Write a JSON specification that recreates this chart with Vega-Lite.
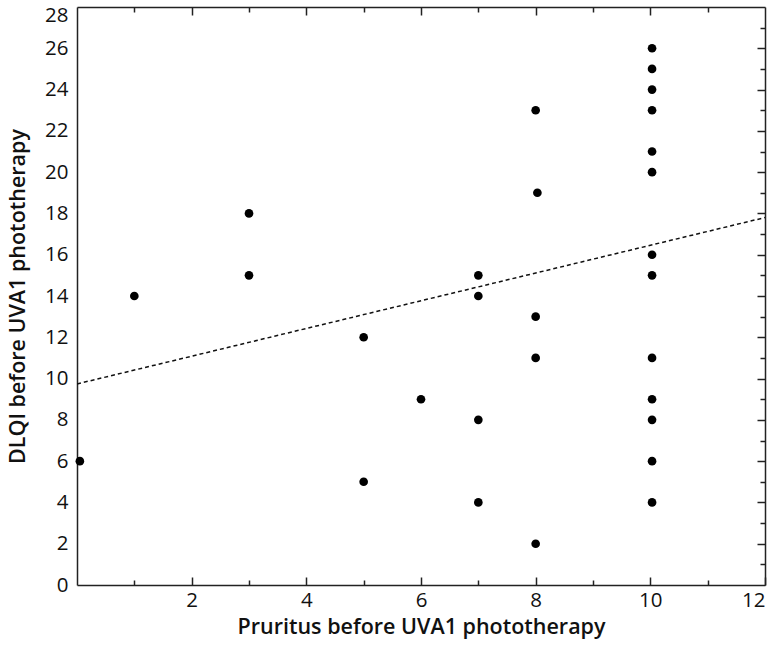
{
  "$schema": "https://vega.github.io/schema/vega-lite/v6.json",
  "autosize": "none",
  "width": 688,
  "height": 578,
  "padding": {"left": 77, "top": 7, "right": 5, "bottom": 64},
  "background": "white",
  "config": {
    "view": {"stroke": null},
    "axis": {"labelFont": "Open Sans", "titleFont": "Open Sans", "labelColor": "#111", "titleColor": "#111", "domainColor": "#222", "tickColor": "#222", "domainWidth": 1.5, "tickWidth": 1.5, "grid": false}
  },
  "datasets": {
    "pts": [
      {"x": 0.05, "y": 6},
      {"x": 1, "y": 14},
      {"x": 3, "y": 18},
      {"x": 3, "y": 15},
      {"x": 5, "y": 12},
      {"x": 5, "y": 5},
      {"x": 6, "y": 9},
      {"x": 7, "y": 15},
      {"x": 7, "y": 14},
      {"x": 7, "y": 8},
      {"x": 7, "y": 4},
      {"x": 8, "y": 23},
      {"x": 8.03, "y": 19},
      {"x": 8, "y": 13},
      {"x": 8, "y": 11},
      {"x": 8, "y": 2},
      {"x": 10.03, "y": 26},
      {"x": 10.03, "y": 25},
      {"x": 10.03, "y": 24},
      {"x": 10.03, "y": 23},
      {"x": 10.03, "y": 21},
      {"x": 10.03, "y": 20},
      {"x": 10.03, "y": 16},
      {"x": 10.03, "y": 15},
      {"x": 10.03, "y": 11},
      {"x": 10.03, "y": 9},
      {"x": 10.03, "y": 8},
      {"x": 10.03, "y": 6},
      {"x": 10.03, "y": 4}
    ],
    "fit": [
      {"x": 0, "y": 9.74},
      {"x": 12, "y": 17.8}
    ]
  },
  "layer": [
    {
      "data": {"name": "fit"},
      "mark": {"type": "line", "color": "#111", "strokeWidth": 1.5, "strokeDash": [4, 3], "clip": true},
      "encoding": {
        "x": {"field": "x", "type": "quantitative", "scale": {"domain": [0, 12], "nice": false, "zero": false},
          "axis": {"orient": "top", "values": [1,2,3,4,5,6,7,8,9,10,11], "labels": false, "title": null,
            "tickSize": {"condition": {"test": "datum.value % 2 === 0", "value": -8}, "value": -5}}},
        "y": {"field": "y", "type": "quantitative", "scale": {"domain": [0, 28], "nice": false},
          "axis": {"orient": "right", "values": [1,2,3,4,5,6,7,8,9,10,11,12,13,14,15,16,17,18,19,20,21,22,23,24,25,26,27], "labels": false, "title": null,
            "tickSize": {"condition": {"test": "datum.value % 2 === 0", "value": -8}, "value": -5}}}
      }
    },
    {
      "data": {"name": "pts"},
      "mark": {"type": "point", "filled": true, "color": "#000", "opacity": 1, "size": 75},
      "encoding": {
        "x": {"field": "x", "type": "quantitative", "scale": {"domain": [0, 12], "nice": false, "zero": false},
          "axis": {"orient": "bottom", "values": [1,2,3,4,5,6,7,8,9,10,11,12], "labelExpr": "datum.value % 2 === 0 ? datum.label : ''",
            "labelFontSize": {"condition": {"test": "datum.value % 2 === 0", "value": 20.5}, "value": 0},
            "tickSize": {"condition": {"test": "datum.value % 2 === 0", "value": -8}, "value": -5},
            "labelPadding": 13, "labelOverlap": false, "title": "Pruritus before UVA1 phototherapy", "titleFontSize": 21.5, "titleFontWeight": 600, "titlePadding": 6}},
        "y": {"field": "y", "type": "quantitative", "scale": {"domain": [0, 28], "nice": false},
          "axis": {"orient": "left", "values": [0,2,4,6,8,10,12,14,16,18,20,22,24,26,28], "ticks": false, "labelPadding": 9, "labelFontSize": 20.5,
            "labelOffset": {"condition": {"test": "datum.value === 28", "value": 8}, "value": 0},
            "title": "DLQI before UVA1 phototherapy", "titleFontSize": 21.5, "titleFontWeight": 600, "titlePadding": 15}}
      }
    }
  ],
  "resolve": {"axis": {"x": "independent", "y": "independent"}}
}
